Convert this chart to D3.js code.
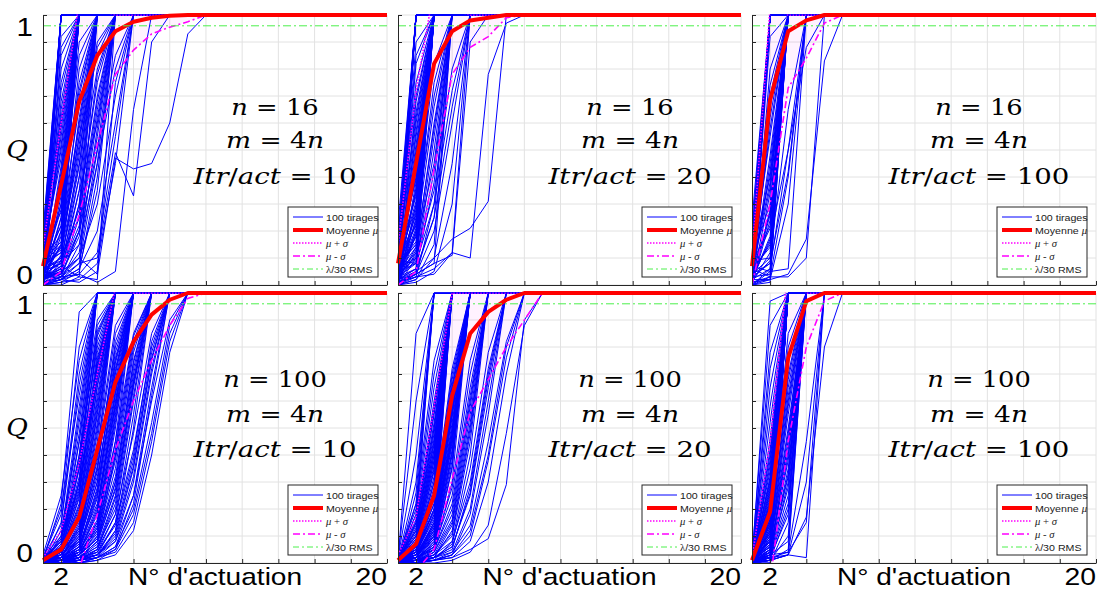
<!DOCTYPE html>
<html><head><meta charset="utf-8">
<script src="https://cdn.jsdelivr.net/npm/d3@7"></script>
<style>body{margin:0;background:#fff}text{white-space:pre}</style>
</head><body>
<svg id="chart" width="1106" height="591"></svg>
<script>
// ---------- tick values / labels ----------
const xTicks = [2,4,6,8,10,12,14,16,18,20];
const yTicks = [0,0.1,0.2,0.3,0.4,0.5,0.6,0.7,0.8,0.9,1];
const xEndLabels = ["2","20"];
const xTitle = "N° d'actuation";
const yTitle = "Q";
const legendLabels = ["100 tirages","Moyenne μ","μ + σ","μ - σ","λ/30 RMS"];
const panelN   = ["16","16","16","100","100","100"];
const panelItr = ["10","20","100","10","20","100"];
const rmsLevel = 0.96;      // λ/30 RMS line
const plateau = 1;          // every draw stays at Q = 1 once it reaches it

// ---------- mean and mean ± sigma (x = 1..20) ----------
const mean1  = [0.07,0.37,0.68,0.85,0.94,0.975,0.99,0.997,1,1,1,1,1,1,1,1,1,1,1,1];
const upper1 = [0.14,0.6,1.05,1.02,1,1,1,1,1,1,1,1,1,1,1,1,1,1,1,1];
const lower1 = [0,0.05,0.26,0.52,0.78,0.87,0.93,0.955,0.975,1,1,1,1,1,1,1,1,1,1,1];
const mean2  = [0.08,0.45,0.82,0.94,0.98,0.99,1,1,1,1,1,1,1,1,1,1,1,1,1,1];
const upper2 = [0.15,0.72,1.1,1.02,1,1,1,1,1,1,1,1,1,1,1,1,1,1,1,1];
const lower2 = [0,0.05,0.43,0.78,0.88,0.92,0.99,1,1,1,1,1,1,1,1,1,1,1,1,1];
const mean3  = [0.07,0.685,0.94,0.98,1,1,1,1,1,1,1,1,1,1,1,1,1,1,1,1];
const upper3 = [0.1,1.03,1,1,1,1,1,1,1,1,1,1,1,1,1,1,1,1,1,1];
const lower3 = [0,0.3,0.73,0.84,0.97,1,1,1,1,1,1,1,1,1,1,1,1,1,1,1];
const mean4  = [0.01,0.05,0.17,0.42,0.67,0.82,0.92,0.975,1,1,1,1,1,1,1,1,1,1,1,1];
const upper4 = [0.02,0.12,0.37,0.7,1.02,1,1,1,1,1,1,1,1,1,1,1,1,1,1,1];
const lower4 = [-0.01,-0.04,-0.02,0.18,0.42,0.6,0.75,0.88,0.98,1,1,1,1,1,1,1,1,1,1,1];
const mean5  = [0.01,0.07,0.25,0.62,0.85,0.93,0.975,1,1,1,1,1,1,1,1,1,1,1,1,1];
const upper5 = [0.03,0.17,0.58,1.0,1,1,1,1,1,1,1,1,1,1,1,1,1,1,1,1];
const lower5 = [-0.01,-0.03,0.05,0.31,0.56,0.68,0.8,0.9,1,1,1,1,1,1,1,1,1,1,1,1];
const mean6  = [0.01,0.19,0.76,0.97,1,1,1,1,1,1,1,1,1,1,1,1,1,1,1,1];
const upper6 = [0.02,0.45,1.1,1,1,1,1,1,1,1,1,1,1,1,1,1,1,1,1,1];
const lower6 = [-0.01,-0.07,0.45,0.8,0.97,1,1,1,1,1,1,1,1,1,1,1,1,1,1,1];

// ---------- 100 draws per panel, Q in %, from x = 1 until Q reaches 100 ----------
const draws1 = [
[2,100],[5,100],[8,100],[0,100],[12,100],[3,100],[15,100],[6,100],[10,100],[1,100],[20,100],[4,100],[9,100],[7,100],[14,100],[0,100],[11,100],[5,100],[18,100],[2,100],
[3,88,100],[6,80,100],[10,72,100],[0,65,100],[4,58,100],[8,52,100],[12,47,100],[2,44,100],[5,40,100],[9,36,100],[1,33,100],[7,30,100],[14,27,100],[3,25,100],[6,22,100],[0,20,100],[11,18,100],[4,15,100],[8,13,100],[2,11,100],[16,62,100],[5,75,100],[9,55,100],[1,38,100],[13,92,100],[6,9,100],[3,7,100],[10,50,100],[0,42,100],[7,68,100],[4,60,100],[2,85,100],
[4,20,80,100],[2,15,70,100],[6,10,62,100],[0,25,75,100],[8,12,55,100],[3,30,85,100],[5,8,48,100],[1,18,60,100],[10,6,40,100],[7,22,66,100],[2,5,35,100],[4,14,52,100],[0,9,44,100],[6,28,90,100],[3,4,30,100],[9,16,58,100],[1,11,25,100],[5,3,20,100],[12,35,72,100],[2,7,3,100],
[3,6,30,75,100],[1,4,20,65,100],[5,10,40,80,100],[0,2,15,55,100],[7,12,45,88,100],[2,5,25,70,100],[4,8,35,60,100],[0,3,10,50,100],[6,14,50,90,100],[1,2,8,45,100],[3,9,28,78,100],[5,4,18,62,100],[0,1,5,40,100],[2,6,22,68,100],[8,15,55,85,100],[1,3,12,58,100],[4,2,6,35,100],[0,0,3,2,100],
[2,4,10,30,70,100],[0,2,6,20,60,100],[5,8,15,45,80,100],[1,3,4,12,55,100],[3,6,20,50,85,100],[0,1,2,8,45,100],[4,2,1,5,75,100],
[3,5,10,4,47,43,45,60,93,100],[1,3,8,10,49,33,90,100],[0,2,4,1,5,65,100]];

const draws2 = [
[3,100],[7,100],[0,100],[12,100],[5,100],[9,100],[2,100],[15,100],[6,100],[1,100],[10,100],[4,100],[18,100],[8,100],[0,100],[13,100],[3,100],[6,100],[22,100],[2,100],[11,100],[5,100],[8,100],[1,100],[16,100],[4,100],
[4,90,100],[2,82,100],[7,75,100],[0,68,100],[10,62,100],[3,57,100],[6,52,100],[1,48,100],[8,45,100],[5,42,100],[12,39,100],[2,36,100],[9,33,100],[0,30,100],[4,28,100],[7,26,100],[3,24,100],[11,22,100],[1,20,100],[6,18,100],[8,16,100],[2,14,100],[5,12,100],[0,10,100],[9,8,100],[3,6,100],[14,70,100],[6,55,100],[1,47,100],[10,40,100],[4,35,100],[7,31,100],[2,27,100],[5,23,100],[0,19,100],[8,15,100],[3,11,100],[12,64,100],[6,44,100],[1,38,100],[9,29,100],[4,21,100],[2,13,100],[0,5,100],[7,85,100],[5,60,100],[3,50,100],[1,4,100],[10,34,100],
[3,20,75,100],[1,12,60,100],[5,8,50,100],[0,25,82,100],[7,15,45,100],[2,6,38,100],[4,18,66,100],[0,3,30,100],[6,10,55,100],[1,5,25,100],[8,22,70,100],[3,9,42,100],[0,2,15,100],[5,14,58,100],[2,4,8,100],
[1,4,20,60,100],[3,8,30,72,100],[0,2,10,45,100],[2,6,25,66,100],[4,10,35,80,100],[0,1,5,30,100],[1,3,4,12,100],
[2,5,10,17,21,31,100],[1,3,6,12,10,78,97,100],[0,4,8,11,90,100]];

const draws3 = [
[2,100],[5,100],[0,100],[8,100],[12,100],[3,100],[6,100],[1,100],[10,100],[4,100],[15,100],[7,100],[0,100],[9,100],[2,100],[18,100],[5,100],[11,100],[3,100],[6,100],[1,100],[14,100],[8,100],[0,100],[4,100],[20,100],[7,100],[2,100],[10,100],[5,100],[13,100],[3,100],[0,100],[9,100],[6,100],[1,100],[16,100],[4,100],[8,100],[2,100],[11,100],[0,100],[7,100],[3,100],[24,100],[5,100],[12,100],[1,100],[6,100],[9,100],[4,100],[2,100],[14,100],[0,100],[8,100],
[3,92,100],[1,80,100],[5,70,100],[0,62,100],[8,55,100],[2,48,100],[4,42,100],[6,38,100],[1,34,100],[10,30,100],[3,27,100],[0,24,100],[7,21,100],[2,18,100],[5,15,100],[1,12,100],[9,10,100],[4,8,100],[0,6,100],[3,4,100],[6,3,100],[2,2,100],[12,66,100],[1,45,100],[5,36,100],[0,28,100],[8,22,100],[3,16,100],[2,9,100],[7,5,100],[0,1,100],[4,58,100],[1,26,100],[6,14,100],[2,74,100],[11,40,100],
[2,6,50,100],[0,3,40,100],[4,10,65,100],[1,2,30,100],[3,8,42,100],
[0,2,4,17,83,100],[1,3,3,10,100],[2,17,50,88,100],[0,5,6,100]];

const draws4 = [
[1,22,93,100],[0,15,70,100],[2,20,62,100],[1,8,55,100],[0,12,48,100],[3,25,75,100],[1,5,40,100],[0,10,58,100],[2,18,80,100],[1,6,35,100],[0,4,45,100],[2,14,66,100],[1,9,52,100],[0,3,30,100],
[0,3,25,75,100],[1,5,30,68,100],[2,8,40,85,100],[0,2,15,60,100],[1,4,22,72,100],[0,6,35,80,100],[2,10,45,90,100],[1,2,12,55,100],[0,3,18,65,100],[1,7,28,78,100],[0,1,10,50,100],[2,4,20,70,100],[1,9,38,88,100],[0,2,14,58,100],[1,3,16,62,100],[0,5,26,74,100],[2,6,32,82,100],[1,1,8,45,100],[0,4,24,76,100],[1,2,11,52,100],[0,7,30,84,100],[2,3,19,66,100],[1,5,27,73,100],[0,1,6,40,100],[1,8,36,86,100],[0,2,13,56,100],[2,4,21,69,100],[1,3,9,48,100],
[0,1,5,25,70,100],[1,2,8,30,75,100],[0,0,4,20,62,100],[1,3,10,35,80,100],[0,1,6,28,68,100],[2,2,7,22,58,100],[0,1,3,15,55,100],[1,4,12,40,85,100],[0,0,2,12,50,100],[1,2,9,32,72,100],[0,1,4,18,60,100],[2,3,11,38,78,100],[0,0,3,14,52,100],[1,2,6,26,66,100],[0,1,5,24,64,100],[1,3,8,30,74,100],[0,0,1,10,45,100],[1,2,7,34,82,100],[0,1,4,16,57,100],[2,4,13,42,88,100],[0,0,2,8,40,100],[1,1,5,21,63,100],[0,2,6,27,71,100],[1,0,3,13,54,100],[0,1,9,36,76,100],[1,2,4,19,59,100],
[0,0,2,8,30,72,100],[1,1,3,10,35,78,100],[0,0,1,5,22,65,100],[1,2,4,12,40,82,100],[0,1,2,6,25,68,100],[0,0,1,4,18,60,100],[1,1,3,9,32,75,100],[0,0,2,7,28,70,100],[2,2,5,15,45,85,100],[0,0,1,3,15,55,100],[1,1,2,8,27,66,100],[0,1,3,11,38,80,100],[0,0,0,2,12,50,100],[1,1,4,13,42,84,100],[0,0,2,6,20,62,100],[1,2,3,9,30,74,100],[0,0,1,5,24,67,100],
[0,0,1,3,10,35,75,100],[1,1,2,4,15,42,80,100],[0,0,0,2,8,30,70,100],[0,1,1,3,12,38,78,100],[1,0,2,5,18,48,85,100],[0,0,1,2,6,25,65,100],[0,1,2,4,14,40,82,100],[1,1,1,3,9,32,72,100],[0,0,0,1,5,22,62,100],[0,0,2,3,11,36,76,100],
[0,0,1,2,4,15,45,82,100],[0,1,1,2,6,20,52,88,100],[1,0,0,1,3,12,40,78,100],[0,0,1,3,8,25,60,90,100],[0,1,0,2,5,18,48,85,100]];

const draws5 = [
[1,30,100],[2,60,100],[0,22,100],[1,85,100],[0,15,100],[2,40,100],[1,18,100],[0,26,100],
[0,8,40,100],[1,12,50,100],[0,5,30,100],[2,15,60,100],[1,10,45,100],[0,4,25,100],[1,14,55,100],[0,6,35,100],[2,18,65,100],[1,9,42,100],[0,3,20,100],[1,11,48,100],[0,7,38,100],[2,20,70,100],[1,5,28,100],[0,2,15,100],[1,13,52,100],[0,8,36,100],[2,16,58,100],[1,6,32,100],[0,4,22,100],[1,10,44,100],[0,9,40,100],[2,12,46,100],[1,3,18,100],[0,6,30,100],[1,15,56,100],[0,5,26,100],[2,10,42,100],[1,7,34,100],[0,2,12,100],[1,12,50,100],[0,8,38,100],[2,22,75,100],[1,4,24,100],[0,1,10,100],
[0,2,10,50,100],[1,3,15,60,100],[0,1,8,45,100],[1,4,18,65,100],[0,2,12,55,100],[2,5,20,70,100],[0,1,6,40,100],[1,3,14,58,100],[0,2,9,48,100],[1,4,16,62,100],[0,1,5,35,100],[1,3,13,56,100],[0,2,11,52,100],[2,6,22,72,100],[0,1,7,42,100],[1,3,12,54,100],[0,2,10,46,100],[1,5,19,66,100],[0,0,4,30,100],[1,2,11,50,100],[0,3,15,60,100],[1,1,8,44,100],[0,2,13,57,100],[2,4,17,64,100],[0,1,6,38,100],[1,3,10,48,100],[0,2,14,59,100],[1,0,5,36,100],[0,1,9,47,100],[1,4,20,68,100],[0,2,7,41,100],
[0,1,3,15,55,100],[1,2,5,20,62,100],[0,0,2,12,50,100],[1,1,4,18,60,100],[0,2,6,25,70,100],[0,1,3,10,45,100],[1,2,5,22,65,100],[0,0,1,8,40,100],[1,1,4,16,58,100],[0,1,2,14,52,100],[2,2,6,28,75,100],[0,0,3,11,48,100],
[0,1,2,6,25,65,100],[1,1,3,8,30,72,100],[0,0,1,4,20,60,100],[0,1,2,5,28,70,100],[1,0,2,7,35,78,100],[0,1,1,3,18,55,100],[0,0,2,6,26,68,100],
[0,0,1,3,10,38,76,100],[1,1,2,4,14,45,82,100],[0,0,1,2,8,30,70,100],[0,1,1,3,12,40,80,100],
[0,0,1,2,5,9,29,90,100],[0,0,0,1,4,14,48,88,100]];

const draws6 = [
[1,97,100],[2,88,100],[0,78,100],[1,72,100],[0,65,100],[2,58,100],[1,52,100],[0,46,100],[1,42,100],[0,38,100],[2,34,100],[1,31,100],[0,28,100],[1,26,100],[0,24,100],[2,22,100],[1,20,100],[0,18,100],[1,16,100],[0,15,100],[2,14,100],[1,13,100],[0,12,100],[1,11,100],[0,10,100],[1,9,100],[2,8,100],[0,7,100],[1,6,100],[0,5,100],[1,4,100],[0,3,100],[2,2,100],[1,1,100],[0,0,100],
[1,25,100],[0,19,100],[2,30,100],[1,17,100],[0,14,100],[1,21,100],[0,9,100],[2,11,100],[1,6,100],[0,4,100],[1,36,100],[0,27,100],[2,15,100],[1,8,100],[0,2,100],[1,23,100],[0,13,100],[1,5,100],[2,40,100],[0,32,100],[1,10,100],[0,7,100],[1,3,100],[2,18,100],[0,22,100],[1,12,100],[0,16,100],[1,29,100],[0,1,100],
[0,5,60,100],[1,8,70,100],[0,3,45,100],[1,12,80,100],[0,2,30,100],[1,6,55,100],[0,4,40,100],[2,10,65,100],[0,1,20,100],[1,7,50,100],[0,3,35,100],[1,9,62,100],[0,2,25,100],[1,5,42,100],[0,0,15,100],[2,14,75,100],[0,4,32,100],[1,6,48,100],[0,1,10,100],[1,3,28,100],[0,8,58,100],[1,2,22,100],[0,5,38,100],[1,11,68,100],[0,1,5,100],[1,4,33,100],[0,2,18,100],[1,7,45,100],[0,3,8,100],[2,16,85,100],[0,1,3,100],
[0,2,3,30,100],[1,3,4,15,100],[0,1,3,2,100],[0,2,4,45,100],
[0,1,3,17,80,100]];

const allDraws = [draws1,draws2,draws3,draws4,draws5,draws6];
const allMean  = [mean1,mean2,mean3,mean4,mean5,mean6];
const allUpper = [upper1,upper2,upper3,upper4,upper5,upper6];
const allLower = [lower1,lower2,lower3,lower4,lower5,lower6];

// ---------- layout ----------
const colLeft  = [43,398,752];
const colRight = [387,741,1096];
const rowTop   = [15,293];
const rowBottom= [285,563];
const annOffsetX = [232,232,227];
const annBaseline = [[100,133,169],[94,129,164]];
const textSX = 1.18;

const C = {blue:"#0000ff", red:"#ff0000", mag:"#ff00ff", green:"#4cf04c", axis:"#262626", grid:"#e2e2e2"};

const svg = d3.select("#chart");
svg.append("rect").attr("width",1106).attr("height",591).attr("fill","#fff");
const defs = svg.append("defs");

function stext(parent, x, y, parts, opts){
  const t = parent.append("text")
    .attr("transform",`translate(${x},${y}) scale(${opts.sx||textSX},1)`)
    .attr("text-anchor",opts.anchor||"start")
    .attr("font-family",opts.family||"'Liberation Sans', Arial, sans-serif")
    .attr("font-size",opts.size)
    .attr("fill",opts.fill||"#000");
  if (opts.baseline) t.attr("dominant-baseline",opts.baseline);
  parts.forEach(p=>{
    const ts = t.append("tspan").text(p[0]);
    if (p[1]) ts.attr("font-style","italic");
    if (p[2]) ts.attr("font-family",p[2]);
  });
  return t;
}

for (let k=0;k<6;k++){
  const row = Math.floor(k/3), col = k%3;
  const L=colLeft[col], R=colRight[col], T=rowTop[row], B=rowBottom[row];
  const x = d3.scaleLinear().domain([1,20]).range([L,R]);
  const y = d3.scaleLinear().domain([0,1]).range([B,T]);
  const g = svg.append("g");

  // grid
  g.append("g").selectAll("line").data(xTicks).join("line")
    .attr("x1",d=>x(d)).attr("x2",d=>x(d)).attr("y1",T).attr("y2",B)
    .attr("stroke",C.grid).attr("stroke-width",1);
  g.append("g").selectAll("line").data(yTicks).join("line")
    .attr("x1",L).attr("x2",R).attr("y1",d=>y(d)).attr("y2",d=>y(d))
    .attr("stroke",C.grid).attr("stroke-width",1);

  defs.append("clipPath").attr("id","clip"+k).append("rect")
    .attr("x",L).attr("y",T-0.6).attr("width",R-L).attr("height",B-T+1.2);
  const cg = g.append("g").attr("clip-path",`url(#clip${k})`);

  const mean = allMean[k], upper = allUpper[k], lower = allLower[k];
  const band = mean.map((m,i)=>({i, lo:lower[i], hi:upper[i]}));
  cg.append("path").datum(band)
    .attr("d", d3.area().x(d=>x(d.i+1)).y0(d=>y(d.lo)).y1(d=>y(d.hi)))
    .attr("fill","#ff00ff").attr("fill-opacity",0.05);

  const line = d3.line().x((d,i)=>x(i+1)).y(d=>y(d));
  const series = allDraws[k].map(c=>{
    const v = c.map(d=>d/100);
    while (v.length<20) v.push(plateau);
    return v;
  });
  cg.append("g").selectAll("path").data(series).join("path")
    .attr("d",line).attr("fill","none").attr("stroke",C.blue).attr("stroke-width",1)
    .attr("stroke-linejoin","miter");

  g.append("path").datum(mean).attr("d",line).attr("fill","none")
    .attr("stroke",C.red).attr("stroke-width",4).attr("stroke-linejoin","round");
  cg.append("path").datum(upper).attr("d",line).attr("fill","none")
    .attr("stroke",C.mag).attr("stroke-width",1.6).attr("stroke-dasharray","1.5,1.5");
  cg.append("path").datum(lower).attr("d",line).attr("fill","none")
    .attr("stroke",C.mag).attr("stroke-width",1.6).attr("stroke-dasharray","7,3,2,3");
  g.append("line").attr("x1",x(1)).attr("x2",x(20)).attr("y1",y(rmsLevel)).attr("y2",y(rmsLevel))
    .attr("stroke",C.green).attr("stroke-width",1).attr("stroke-dasharray","8,3,2,3");

  // axes (ticks inside)
  const ay = g.append("g").attr("transform",`translate(${L},0)`)
    .call(d3.axisLeft(y).tickValues(yTicks).tickSize(-4).tickSizeOuter(0).tickFormat(""));
  const ax = g.append("g").attr("transform",`translate(0,${B})`)
    .call(d3.axisBottom(x).tickValues(xTicks).tickSize(-4).tickSizeOuter(0).tickFormat(""));
  [ay,ax].forEach(a=>{a.selectAll("path,line").attr("stroke",C.axis).attr("stroke-width",1);});

  // y labels
  if (col===0){
    stext(g, L-10, y(1)+3, [["1"]], {anchor:"end", size:25, baseline:"hanging"});
    stext(g, L-10, y(0)-1, [["0"]], {anchor:"end", size:25});
    stext(g, 17, (T+B)/2+8, [[yTitle,true]], {anchor:"middle", size:24, family:"'DejaVu Serif', serif", sx:1.1});
  }
  // x labels
  if (row===1){
    stext(g, x(2), 585, [[xEndLabels[0]]], {anchor:"middle", size:24});
    stext(g, R, 585, [[xEndLabels[1]]], {anchor:"end", size:24});
    stext(g, (L+R)/2, 585, [[xTitle]], {anchor:"middle", size:24, sx:1.17});
  }

  // annotation
  const af = "'DejaVu Serif', serif";
  const ax0 = L + annOffsetX[col];
  const bl = annBaseline[row];
  stext(g, ax0, T+bl[0], [["n",true],[" = "+panelN[k]]], {anchor:"middle", size:23, family:af, sx:1.12});
  stext(g, ax0, T+bl[1], [["m",true],[" = 4"],["n",true]], {anchor:"middle", size:23, family:af, sx:1.15});
  stext(g, ax0, T+bl[2], [["Itr",true],["/"],["act",true],[" = "+panelItr[k]]], {anchor:"middle", size:23, family:af, sx:1.2});

  // legend
  const lw=90, lh=70, lx=R-9-lw, ly=B-8-lh;
  const lg = g.append("g");
  lg.append("rect").attr("x",lx).attr("y",ly).attr("width",lw).attr("height",lh)
    .attr("fill","#fff").attr("stroke",C.axis).attr("stroke-width",1);
  const styles = [
    {c:C.blue,w:1,d:null},{c:C.red,w:4,d:null},{c:C.mag,w:1.6,d:"1.5,1.5"},
    {c:C.mag,w:1.6,d:"7,3,2,3"},{c:C.green,w:1,d:"6,3,2,3"}];
  const serif = "'Liberation Serif', serif";
  const labelParts = [
    [[legendLabels[0]]],
    [["Moyenne "],["μ",true,serif]],
    [["μ",true,serif],[" + ",false,serif],["σ",true,serif]],
    [["μ",true,serif],[" - ",false,serif],["σ",true,serif]],
    [["λ",false,serif],["/30 RMS"]]];
  styles.forEach((s,i)=>{
    const yy = ly+10+i*13;
    const ln = lg.append("line").attr("x1",lx+5).attr("x2",lx+35).attr("y1",yy).attr("y2",yy)
      .attr("stroke",s.c).attr("stroke-width",s.w);
    if (s.d) ln.attr("stroke-dasharray",s.d);
    stext(lg, lx+38, yy+3.5, labelParts[i], {size:9.5, fill:"#1a1a1a", sx:1.12});
  });
}
</script>
</body></html>
